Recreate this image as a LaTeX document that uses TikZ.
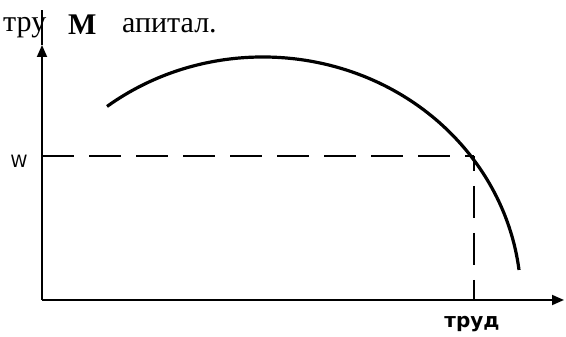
\documentclass[tikz,border=0pt]{standalone}
\usepackage{fontspec}
\setmainfont{Liberation Serif}
\newfontfamily\labsans{DejaVu Sans}
\usetikzlibrary{arrows.meta}
\begin{document}
\begin{tikzpicture}[x=1pt,y=1pt,
  axis/.style={line width=1.8pt,-{Triangle[length=12pt,width=10pt]}},
  guide/.style={line width=1.6pt,dash pattern=on 32pt off 15pt},
  curvestyle/.style={line width=3.2pt},
  toptext/.style={inner sep=0pt,anchor=base west,font=\fontsize{30}{32}\selectfont}]
\useasboundingbox (0,0) rectangle (566,337);
\coordinate (O) at (42,37);
\coordinate (ytip) at (42,292);
\coordinate (ytop) at (42,327);
\coordinate (xtip) at (564,37);
\coordinate (wpt) at (42,181);
\coordinate (corner) at (474,181);
\coordinate (foot) at (474,37);
\draw[axis] (O) -- (ytip);
\draw[line width=1.2pt] (ytip) -- (ytop);
\draw[axis] (O) -- (xtip);
\draw[guide] (wpt) -- (corner);
\draw[guide,dash phase=17pt] (corner) -- (foot);
\draw[curvestyle] (263,37) ++(127.2:258 and 243) coordinate (cstart)
  arc[start angle=127.2,end angle=7.1,x radius=258,y radius=243] coordinate (cend);
\node[anchor=center,inner sep=0pt,font=\labsans\fontsize{17}{18}\selectfont] (w) at (19,176) {W};
\node[anchor=center,inner sep=0pt,font=\labsans\bfseries\fontsize{20}{22}\selectfont] (trud) at (472,13) {труд};
\node[toptext] (t1) at (3,305) {тру};
\node[toptext,font=\bfseries\fontsize{30}{32}\selectfont] (t2) at (68,302) {M};
\node[toptext] (t3) at (122,304) {апитал.};
\end{tikzpicture}
\end{document}
